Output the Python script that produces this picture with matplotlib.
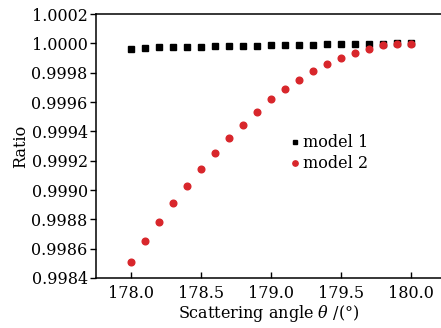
import numpy as np
import matplotlib.pyplot as plt

plt.rcParams['font.family'] = 'DejaVu Serif'
plt.rcParams['mathtext.fontset'] = 'dejavuserif'

# scattering angle (deg) and intensity ratio for the two models
angle = [178.0, 178.1, 178.2, 178.3, 178.4, 178.5, 178.6, 178.7, 178.8, 178.9, 179.0,
         179.1, 179.2, 179.3, 179.4, 179.5, 179.6, 179.7, 179.8, 179.9, 180.0]
ratio_model1 = [0.999964, 0.999970, 0.999972, 0.999974, 0.999976, 0.999978, 0.999980,
                0.999981, 0.999983, 0.999985, 0.999987, 0.999988, 0.999990, 0.999991,
                0.999993, 0.999994, 0.999995, 0.999997, 0.999998, 0.999999, 1.000000]
ratio_model2 = [0.998510, 0.998652, 0.998782, 0.998910, 0.999030, 0.999144, 0.999253,
                0.999353, 0.999444, 0.999529, 0.999620, 0.999688, 0.999752, 0.999809,
                0.999859, 0.999900, 0.999934, 0.999964, 0.999986, 0.999995, 0.999998]

fig = plt.figure(figsize=(4.41, 3.28), dpi=100)
ax = fig.add_axes([96/441, 1 - 278/328, 1 - 96/441, 264/328])

ax.plot(angle, ratio_model1, 's', color='black', markersize=4.3, label='model 1')
ax.plot(angle, ratio_model2, 'o', color='#d8262b', markersize=4.8, label='model 2')

ax.set_xlim(177.75, 180.214)
ax.set_ylim(0.9984, 1.0002)
ax.set_xticks([178.0, 178.5, 179.0, 179.5, 180.0])
ax.set_yticks(np.arange(0.9984, 1.00021, 0.0002))
ax.xaxis.set_major_formatter(plt.FormatStrFormatter('%.1f'))
ax.yaxis.set_major_formatter(plt.FormatStrFormatter('%.4f'))
ax.tick_params(axis='x', direction='in', length=4, width=1, labelsize=11.5, pad=5)
ax.tick_params(axis='y', direction='out', length=4, width=1, labelsize=11.5, pad=2)
ax.spines['right'].set_visible(False)
for s in ['left', 'bottom', 'top']:
    ax.spines[s].set_linewidth(1.1)

ax.set_xlabel(r'Scattering angle $\theta$ /(°)', fontsize=11.5, labelpad=1)
ax.set_ylabel('Ratio', fontsize=11.5, labelpad=2)

ax.legend(loc='upper left', bbox_to_anchor=(0.545, 0.575), frameon=False,
          fontsize=11.5, handlelength=0.4, handletextpad=0.3, labelspacing=0.25,
          borderpad=0, markerscale=0.8)

fig.savefig('out.png', dpi=100)
